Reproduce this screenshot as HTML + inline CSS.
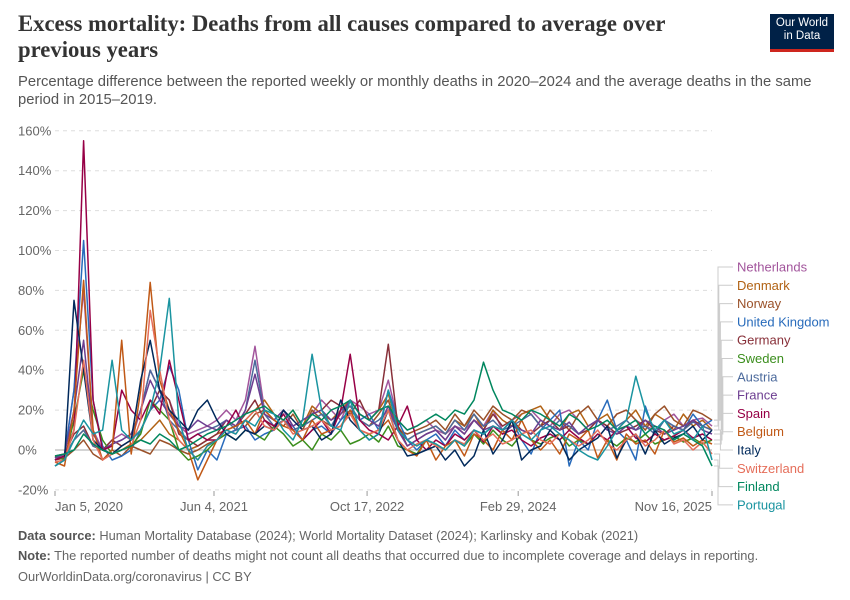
<!DOCTYPE html>
<html><head><meta charset="utf-8">
<style>
body{margin:0;width:850px;height:600px;background:#fff;font-family:"Liberation Sans",sans-serif;position:relative;overflow:hidden}
.t{position:absolute;left:18px;top:11px;font-family:"Liberation Serif",serif;font-weight:bold;font-size:22.7px;line-height:26px;color:#333;width:720px}
.s{position:absolute;left:18px;top:73px;font-size:14.8px;line-height:18px;color:#555;width:810px}
.logo{position:absolute;left:770px;top:14px;width:64px;height:38px;background:#002147;color:#fff;font-size:11.5px;line-height:13px;text-align:center;padding-top:3px;box-sizing:border-box}
.logo:after{content:"";position:absolute;left:0;right:0;bottom:0;height:3px;background:#ce261e}
.f{position:absolute;left:18px;font-size:12.85px;color:#666}
.f b{color:#555}
</style></head><body>
<div class="t">Excess mortality: Deaths from all causes compared to average over previous years</div>
<div class="s">Percentage difference between the reported weekly or monthly deaths in 2020–2024 and the average deaths in the same period in 2015–2019.</div>
<div class="logo">Our World<br>in Data</div>
<svg id="c" width="850" height="600" style="position:absolute;left:0;top:0"></svg>
<div class="f" style="top:528px"><b>Data source:</b> Human Mortality Database (2024); World Mortality Dataset (2024); Karlinsky and Kobak (2021)</div>
<div class="f" style="top:548px"><b>Note:</b> The reported number of deaths might not count all deaths that occurred due to incomplete coverage and delays in reporting.</div>
<div class="f" style="top:569px">OurWorldinData.org/coronavirus | CC BY</div>
<script>
const yTicks=[-20,0,20,40,60,80,100,120,140,160];
const xTickLabels=["Jan 5, 2020","Jun 4, 2021","Oct 17, 2022","Feb 29, 2024","Nov 16, 2025"];
const xTickFrac=[0,0.242,0.475,0.705,1];
const names=["Netherlands","Denmark","Norway","United Kingdom","Germany","Sweden","Austria","France","Spain","Belgium","Italy","Switzerland","Finland","Portugal"];
const colors=["#a2559c","#b16214","#9a5129","#286bbb","#883039","#3b8e1d","#4c6a9c","#6d3e91","#970046","#c05917","#00295b","#e56e5a","#00875e","#1a94a0"];
const netherlands=[-4,-2,30,80,10,0,5,8,5,20,40,30,25,12,8,10,12,15,20,15,25,52,20,15,20,12,15,18,25,20,15,25,22,18,20,35,15,10,12,15,10,8,12,10,15,12,20,10,15,18,20,15,12,18,20,15,10,15,12,18,20,15,12,10,15,18,12,15,16,12];
const denmark=[-5,-3,5,10,2,0,-2,0,3,5,10,15,8,5,0,2,5,8,10,12,15,20,25,18,15,20,12,22,18,15,20,25,18,15,20,28,12,5,8,10,12,8,15,12,18,10,20,15,12,18,20,22,15,10,18,20,12,15,18,10,15,20,12,18,15,10,18,12,15,10];
const norway=[-5,-4,0,5,-2,-5,0,-3,2,0,-2,5,3,0,-2,0,3,5,8,10,12,18,20,15,12,18,10,20,15,12,18,22,15,12,18,25,10,8,10,12,15,10,18,12,20,15,22,18,15,20,18,12,20,15,10,18,22,15,12,18,20,15,10,18,22,15,12,20,18,15];
const uk=[-5,-3,30,105,25,2,-5,-3,0,10,20,25,42,30,5,-10,0,-5,8,10,12,5,8,10,15,12,5,10,12,8,15,20,15,18,10,30,15,5,0,5,8,2,10,5,10,8,12,10,15,5,-2,10,15,20,-8,5,0,15,25,10,5,-5,22,8,15,12,10,18,12,15];
const germany=[-3,-2,8,12,2,0,5,2,5,10,20,30,25,8,5,2,5,8,15,12,18,25,15,10,15,10,12,18,20,25,22,18,25,15,20,53,12,2,5,8,10,5,12,8,15,10,18,12,15,10,8,12,15,10,12,8,10,15,12,8,10,12,15,10,8,12,10,15,12,10];
const sweden=[-3,-5,15,40,20,5,-2,0,2,8,25,20,15,0,-5,-3,0,5,8,5,10,8,5,12,8,2,5,0,8,5,10,3,5,8,4,12,2,0,-2,5,3,0,5,2,8,3,10,5,2,8,5,3,6,8,2,5,3,8,5,2,6,4,8,3,5,7,4,6,3,5];
const austria=[-5,-3,5,10,2,0,3,5,8,20,40,30,15,10,5,8,10,12,15,10,20,45,18,12,15,10,12,15,18,12,20,22,15,12,15,20,10,5,8,10,12,8,15,10,18,12,15,10,12,15,18,12,10,15,12,8,12,15,10,12,15,10,12,8,15,12,10,14,12,10];
const france=[-4,-2,20,55,8,0,3,5,8,20,35,25,18,12,10,15,12,10,15,12,20,38,18,15,20,12,15,18,20,15,18,25,18,15,12,22,10,2,5,8,10,5,12,8,15,10,12,8,12,10,8,15,12,10,14,8,12,15,10,8,12,10,15,12,8,10,12,15,10,8];
const spain=[-5,-3,10,155,25,0,2,30,20,15,25,18,45,25,5,8,5,5,12,20,10,8,15,12,18,10,5,10,15,8,20,48,15,10,8,5,12,22,5,0,5,2,8,5,10,4,12,8,10,5,2,6,8,5,10,6,3,8,5,10,12,6,4,8,5,7,10,6,8,5];
const belgium=[-6,-8,20,85,10,-5,0,55,-2,30,84,35,20,10,0,-15,-5,5,10,12,15,8,20,15,12,10,5,15,8,10,12,20,10,8,10,15,5,0,-3,5,-5,2,5,-3,8,5,0,10,5,15,5,0,5,-2,8,5,10,-4,5,-5,8,3,5,-2,10,4,6,2,5,3];
const italy=[-8,-5,75,40,5,0,-2,2,5,35,55,30,20,15,10,20,25,15,8,5,10,8,12,10,20,15,10,12,5,8,25,15,10,5,8,20,5,-3,-2,0,2,-5,0,-8,-3,10,-2,5,15,-5,0,2,10,5,-5,0,3,6,12,-4,5,8,-2,10,3,6,8,12,5,10];
const switzerland=[-6,-5,10,45,5,-5,-2,0,2,15,70,40,15,5,0,-5,2,5,10,8,15,20,12,10,15,8,10,12,15,10,12,18,10,8,10,20,5,0,3,5,2,0,5,3,10,5,8,3,5,8,10,5,3,8,5,2,5,10,3,0,5,8,2,5,10,3,5,0,4,-2];
const finland=[-3,-2,0,8,3,0,-2,0,2,5,3,8,5,0,2,5,8,10,12,15,18,20,22,18,15,20,12,18,15,20,22,25,18,15,20,22,15,10,12,15,18,15,20,18,25,44,30,20,18,15,20,18,15,12,18,15,10,12,15,10,12,15,8,12,10,5,8,5,2,-8];
const portugal=[-8,-5,5,15,8,10,45,10,5,10,20,40,76,15,0,-5,2,5,10,8,15,12,20,18,10,5,15,48,20,12,10,25,10,5,8,30,10,5,2,5,3,0,5,2,10,8,12,10,15,8,5,10,12,8,5,0,-3,-5,2,10,15,37,20,10,15,8,10,5,12,-5];
const series=[netherlands,denmark,norway,uk,germany,sweden,austria,france,spain,belgium,italy,switzerland,finland,portugal];

const NS="http://www.w3.org/2000/svg";
const svg=document.getElementById('c');
const X0=55,X1=712,Y0=450,PX=39.9/20;
const y=v=>Y0-v*PX;
const xf=f=>X0+f*(X1-X0);
function mk(t,a,p){const e=document.createElementNS(NS,t);for(const k in a)e.setAttribute(k,a[k]);(p||svg).appendChild(e);return e;}
yTicks.forEach(t=>{
  const g=mk('line',{x1:X0,x2:X1,y1:y(t),y2:y(t),stroke:t===0?'#aaa':'#ddd','stroke-dasharray':t===0?'':'4,4','stroke-width':1});
  
  
  const l=mk('text',{x:18,y:y(t)+4.5,'font-size':13,fill:'#666','font-family':'Liberation Sans, sans-serif'});
  l.textContent=t+'%';
  
  
});
xTickLabels.forEach((s,i)=>{
  const x=xf(xTickFrac[i]);
  const tk=mk('line',{x1:x,x2:x,y1:491,y2:496,stroke:'#999'});
  
  
  const anchor=i===0?'start':(i===xTickLabels.length-1?'end':'middle');
  const l=mk('text',{x:x,y:511,'font-size':13,fill:'#666','text-anchor':anchor,'font-family':'Liberation Sans, sans-serif'});
  l.textContent=s;
  
  
});
series.forEach((d,si)=>{
  const n=d.length;
  const pts=d.map((v,i)=>(X0+i*(X1-X0)/(n-1)).toFixed(1)+','+y(v).toFixed(1)).join(' ');
  const p=mk('polyline',{points:pts,fill:'none',stroke:colors[si],'stroke-width':1.5,'stroke-linejoin':'round'});
  
  
});
names.forEach((nm,si)=>{
  const d=series[si];
  const ly=267+si*18.3;
  const ey=y(d[d.length-1]);
  const cx=718+(si<7?si:13-si)*0.8;
  const c=mk('polyline',{points:`714,${ey} ${cx},${ey} ${cx},${ly} 733,${ly}`,fill:'none',stroke:'#ccc','stroke-width':1});
  
  
  const t=mk('text',{x:737,y:ly+4.5,'font-size':13,fill:colors[si],'font-family':'Liberation Sans, sans-serif'});
  t.textContent=nm;
  
  
});
</script>
</body></html>
